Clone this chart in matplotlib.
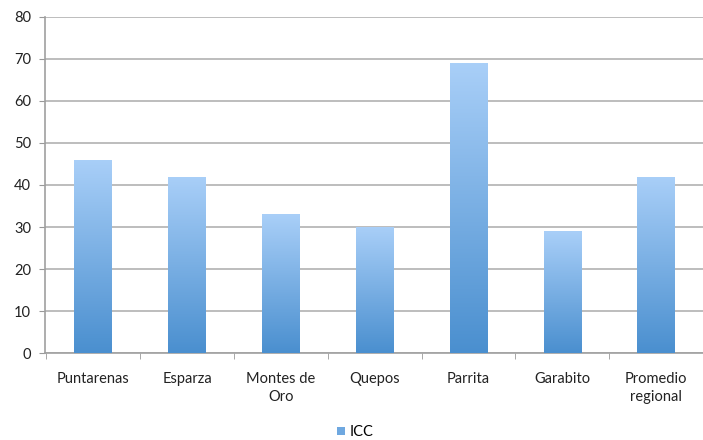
import numpy as np
import matplotlib.pyplot as plt
from matplotlib.colors import LinearSegmentedColormap

plt.rcParams['font.family'] = ['Lato', 'DejaVu Sans']

categories = ['Puntarenas', 'Esparza', 'Montes de\nOro', 'Quepos', 'Parrita',
              'Garabito', 'Promedio\nregional']
icc = [46, 42, 33, 30, 69, 29, 42]

fig = plt.figure(figsize=(7.03, 4.40), dpi=100)
ax = fig.add_axes([0.064, 0.1977, 0.936, 0.7637])

x = np.arange(len(categories))
bars = ax.bar(x, icc, width=0.40, color='#6fa8e0', label='ICC', zorder=2)

# vertical gradient inside each bar (light on top, darker at the bottom)
cmap = LinearSegmentedColormap.from_list('icc', ['#4a8fcf', '#a9cff8'])
grad = np.linspace(0, 1, 256).reshape(-1, 1)
for b in bars:
    bx, by = b.get_x(), b.get_y()
    w, h = b.get_width(), b.get_height()
    im = ax.imshow(grad, cmap=cmap, origin='lower', aspect='auto',
                   extent=[bx, bx + w, by, by + h], zorder=3)
    im.set_clip_path(b)

# the plot is cut on the right, like the original screenshot
ax.set_xlim(-0.514, 6.4)
ax.set_ylim(0, 80)
ax.set_yticks(range(0, 81, 10))
ax.set_xticks(x)
ax.set_xticklabels(categories, fontsize=10.5, color='#222222', linespacing=1.3)
ax.set_xticks(np.arange(-0.5, len(categories)), minor=True)
ax.tick_params(axis='x', which='major', length=0, pad=14)
ax.tick_params(axis='x', which='minor', length=4, color='#999999')
ax.tick_params(axis='y', length=4, color='#999999', labelsize=10.5,
               labelcolor='#222222', pad=6)

ax.grid(axis='y', color='#bdbdbd', linewidth=1.4, zorder=0)
for s in ['top', 'right']:
    ax.spines[s].set_visible(False)
for s in ['left', 'bottom']:
    ax.spines[s].set_color('#a0a0a0')
    ax.spines[s].set_linewidth(1.2)

fig.legend(handles=[bars], labels=['ICC'], loc='center',
           bbox_to_anchor=(0.505, 0.018), frameon=False, fontsize=10.5,
           handlelength=0.55, handleheight=0.55, handletextpad=0.3)

fig.savefig('out.png', dpi=100)
